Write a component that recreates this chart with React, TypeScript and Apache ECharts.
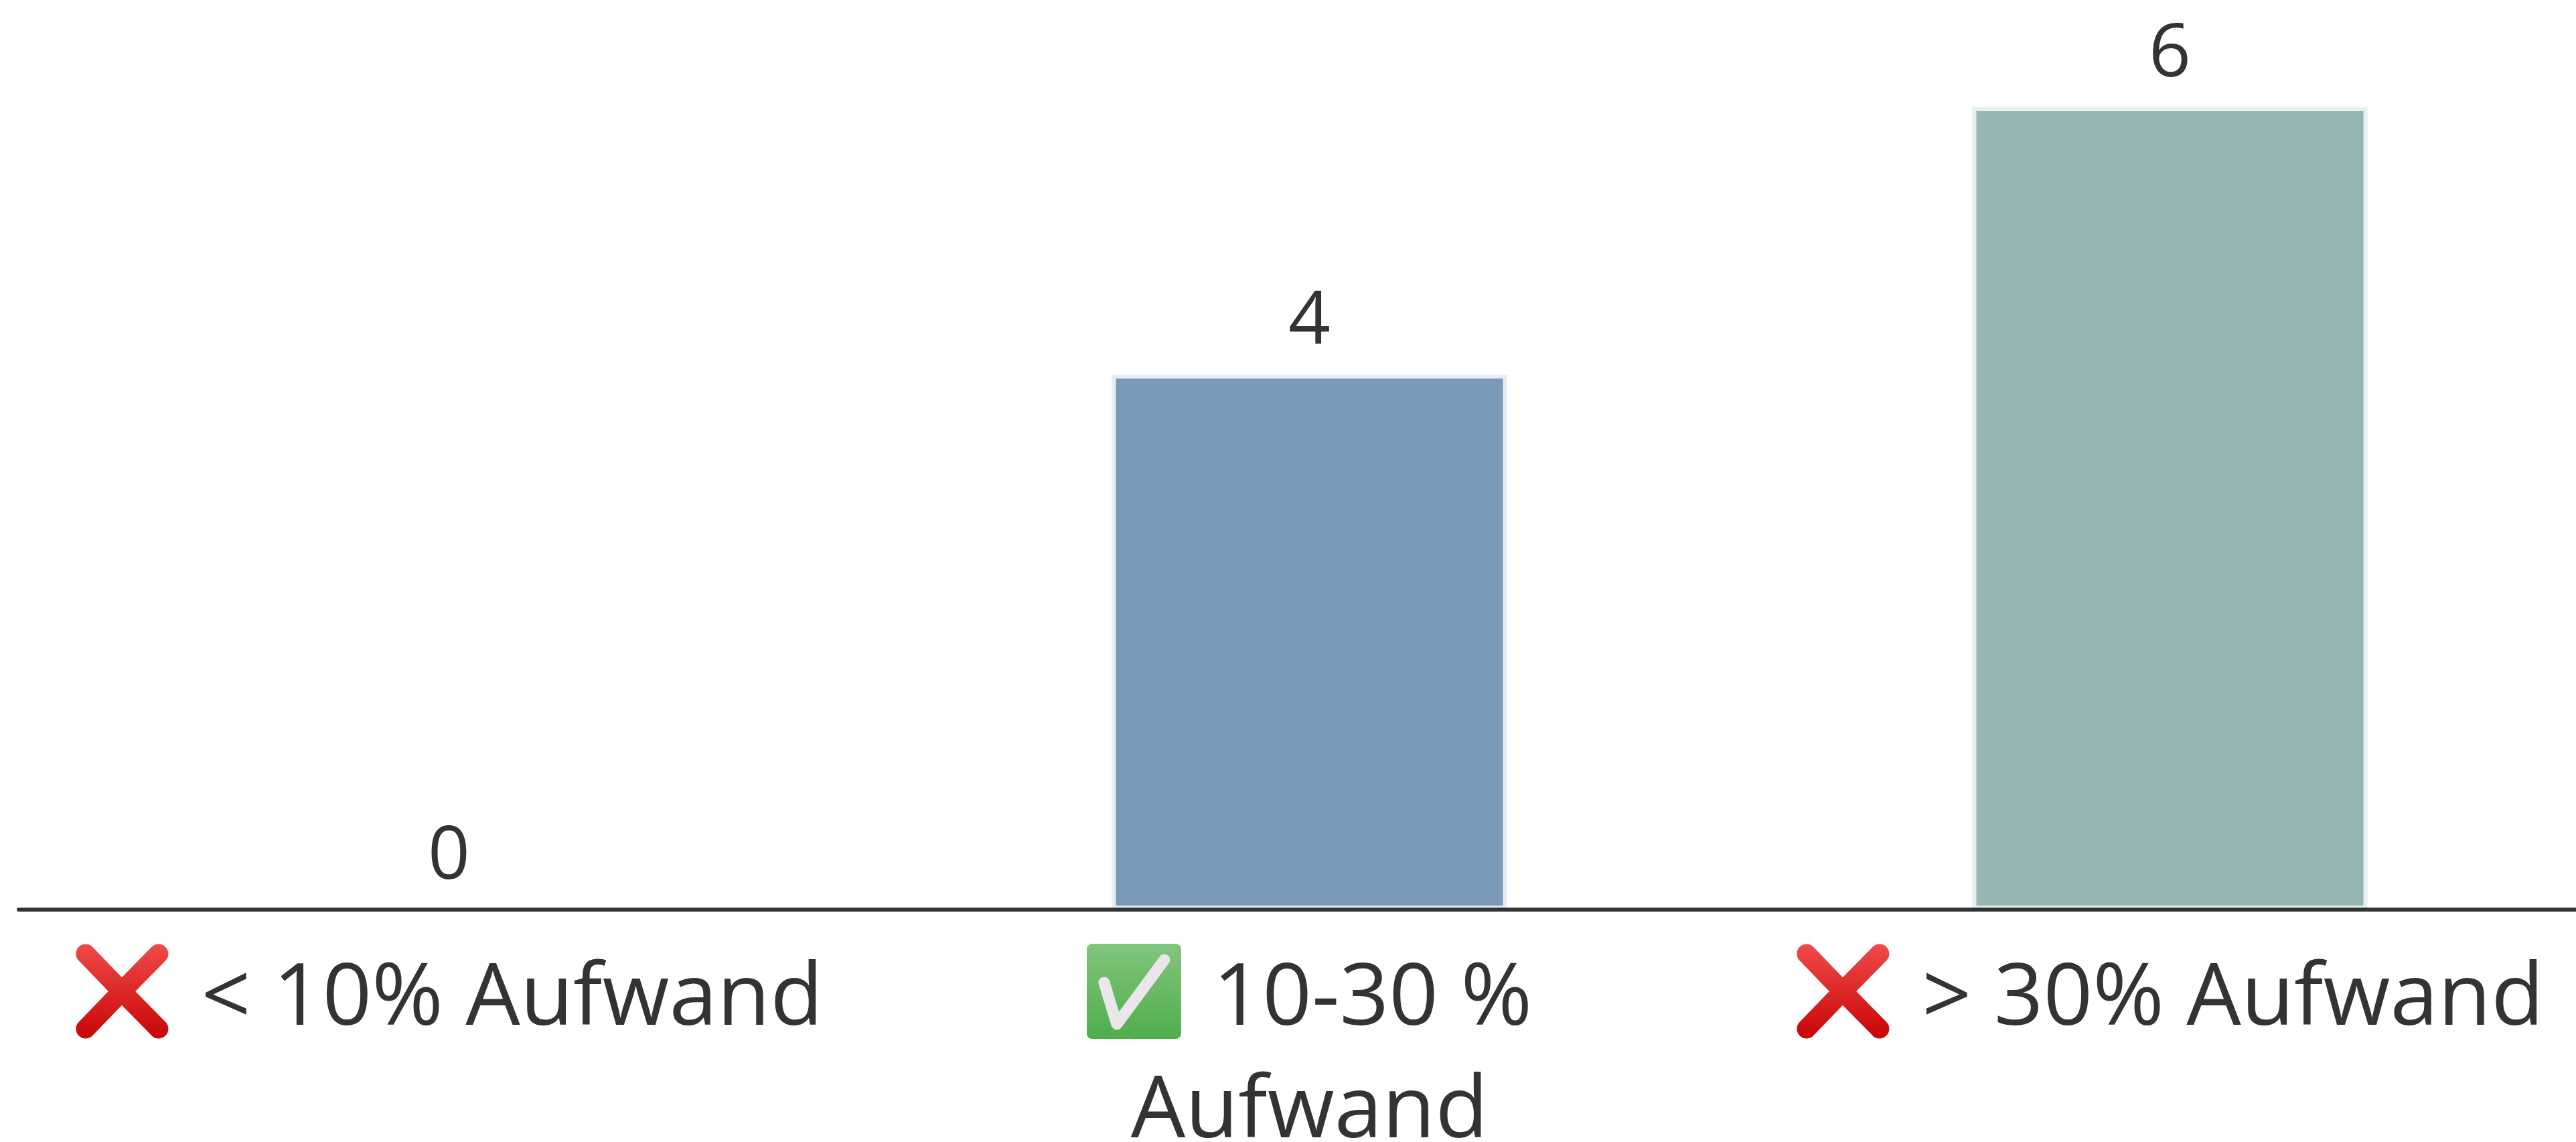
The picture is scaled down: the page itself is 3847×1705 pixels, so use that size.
import React, { useEffect, useRef } from "react";
import * as echarts from "echarts";

const categories = ["{no|❌} < 10% Aufwand", "{yes|✅} 10-30 %\nAufwand", "{no|❌} > 30% Aufwand"];
const values = [0, 4, 6];
const barColors = ["#7899B8", "#7899B8", "#97B5B2"];
const borderColors = ["transparent", "#E6EEF3", "#E6F0F0"];

const crossSvg = `<svg xmlns="http://www.w3.org/2000/svg" viewBox="0 0 155 142"><defs><linearGradient id="a" gradientUnits="userSpaceOnUse" x1="0" y1="0" x2="0" y2="142"><stop offset="0" stop-color="#F04A4A"/><stop offset="1" stop-color="#C80606"/></linearGradient></defs><path d="M16 15 L70 71 L125 15 M16 127 L70 71 L125 127" fill="none" stroke="url(#a)" stroke-width="29" stroke-linecap="round" stroke-linejoin="miter"/></svg>`;
const checkSvg = `<svg xmlns="http://www.w3.org/2000/svg" viewBox="0 0 155 142"><defs><linearGradient id="g" x1="0" y1="0" x2="0" y2="1"><stop offset="0" stop-color="#82C57E"/><stop offset="1" stop-color="#4FAE4B"/></linearGradient></defs><rect width="141" height="142" rx="8" fill="url(#g)"/><path d="M26 58 L45 120 L116 24" fill="none" stroke="#E9E7E9" stroke-width="17" stroke-linecap="round" stroke-linejoin="round"/></svg>`;
const uri = (s: string) => "data:image/svg+xml;charset=utf-8," + encodeURIComponent(s);

export default function App() {
  const ref = useRef<HTMLDivElement>(null);
  useEffect(() => {
    document.body.style.margin = "0";
    const chart = echarts.init(ref.current!, undefined, { renderer: "svg" });
    const icon = (s: string) => ({
      backgroundColor: { image: uri(s) },
      width: 155,
      height: 142,
      color: "transparent",
      fontSize: 100,
      fontFamily: "DejaVu Sans",
    });
    chart.setOption({
      animation: false,
      backgroundColor: "#ffffff",
      grid: { left: 28, top: 160, width: 3855, height: 1198, containLabel: false, outerBoundsMode: "none" },
      xAxis: {
        type: "category",
        data: categories,
        axisLine: { show: true, lineStyle: { color: "#333333", width: 6 } },
        axisTick: { show: false },
        axisLabel: {
          interval: 0,
          margin: 38,
          color: "#333333",
          fontFamily: "Open Sans",
          fontSize: 129,
          lineHeight: 168,
          rich: { no: icon(crossSvg), yes: icon(checkSvg) },
        },
        z: 5,
      },
      yAxis: { type: "value", min: 0, max: 6, show: false, splitLine: { show: false } },
      series: [
        {
          type: "bar",
          barWidth: 590,
          data: values.map((v, i) => ({
            value: v,
            itemStyle: { color: barColors[i], borderColor: borderColors[i], borderWidth: v ? 6 : 0 },
          })),
          label: {
            show: true,
            position: "top",
            distance: 34,
            color: "#333333",
            fontFamily: "Open Sans",
            fontSize: 110,
          },
        },
      ],
    });
    return () => chart.dispose();
  }, []);
  return <div ref={ref} style={{ width: 3847, height: 1705 }} />;
}
